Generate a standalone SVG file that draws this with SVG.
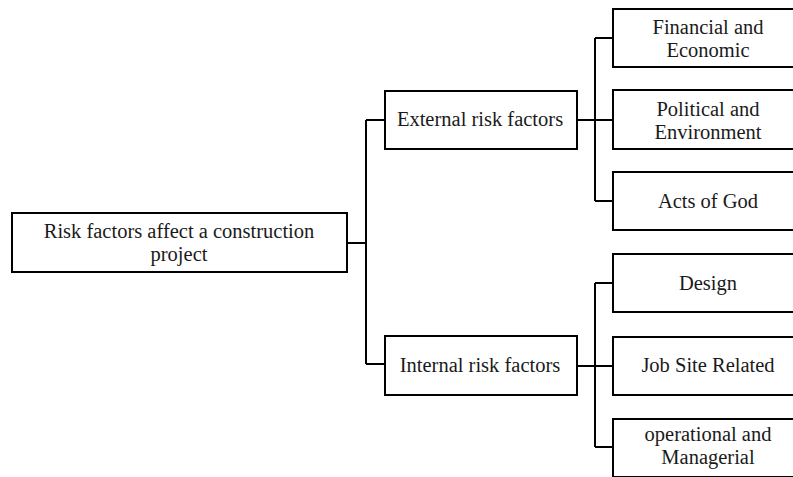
<svg xmlns="http://www.w3.org/2000/svg" width="793" height="477" viewBox="0 0 793 477">
  <style>
    .box { fill: #ffffff; stroke: #000000; stroke-width: 2; }
    .lbl { font-family: "Liberation Serif", "Times New Roman", serif; font-size: 20.5px; fill: #1a1a1a; text-anchor: middle; }
    .conn { fill: none; stroke: #000000; stroke-width: 2; }
  </style>
  <rect width="793" height="477" fill="#ffffff"/>

  <!-- connectors -->
  <g id="connectors">
    <path class="conn" d="M347 243 H366 M366 120 V364 M366 120 H385 M366 364 H385"/>
    <path class="conn" d="M577 120 H595 M595 38 V201 M595 38 H613 M595 120 H613 M595 201 H613"/>
    <path class="conn" d="M577 366 H595 M595 283 V447 M595 283 H613 M595 366 H613 M595 447 H613"/>
  </g>

  <!-- root -->
  <g id="root">
    <rect class="box" x="12" y="213" width="335" height="59"/>
    <text class="lbl" x="179" y="238">Risk factors affect a construction</text>
    <text class="lbl" x="179" y="261">project</text>
  </g>

  <!-- second level -->
  <g id="external">
    <rect class="box" x="385" y="91" width="192" height="58"/>
    <text class="lbl" x="480" y="126">External risk factors</text>
  </g>
  <g id="internal">
    <rect class="box" x="385" y="336" width="192" height="59"/>
    <text class="lbl" x="480" y="372">Internal risk factors</text>
  </g>

  <!-- external leaves -->
  <g id="financial">
    <rect class="box" x="613" y="9" width="190" height="58"/>
    <text class="lbl" x="708" y="34">Financial and</text>
    <text class="lbl" x="708" y="57">Economic</text>
  </g>
  <g id="political">
    <rect class="box" x="613" y="90" width="190" height="59"/>
    <text class="lbl" x="708" y="116">Political and</text>
    <text class="lbl" x="708" y="139">Environment</text>
  </g>
  <g id="acts">
    <rect class="box" x="613" y="172" width="190" height="58"/>
    <text class="lbl" x="708" y="208">Acts of God</text>
  </g>

  <!-- internal leaves -->
  <g id="design">
    <rect class="box" x="613" y="254" width="190" height="58"/>
    <text class="lbl" x="708" y="290">Design</text>
  </g>
  <g id="jobsite">
    <rect class="box" x="613" y="337" width="190" height="58"/>
    <text class="lbl" x="708" y="372">Job Site Related</text>
  </g>
  <g id="operational">
    <rect class="box" x="613" y="419" width="190" height="58"/>
    <text class="lbl" x="708" y="441">operational and</text>
    <text class="lbl" x="708" y="464">Managerial</text>
  </g>
</svg>
